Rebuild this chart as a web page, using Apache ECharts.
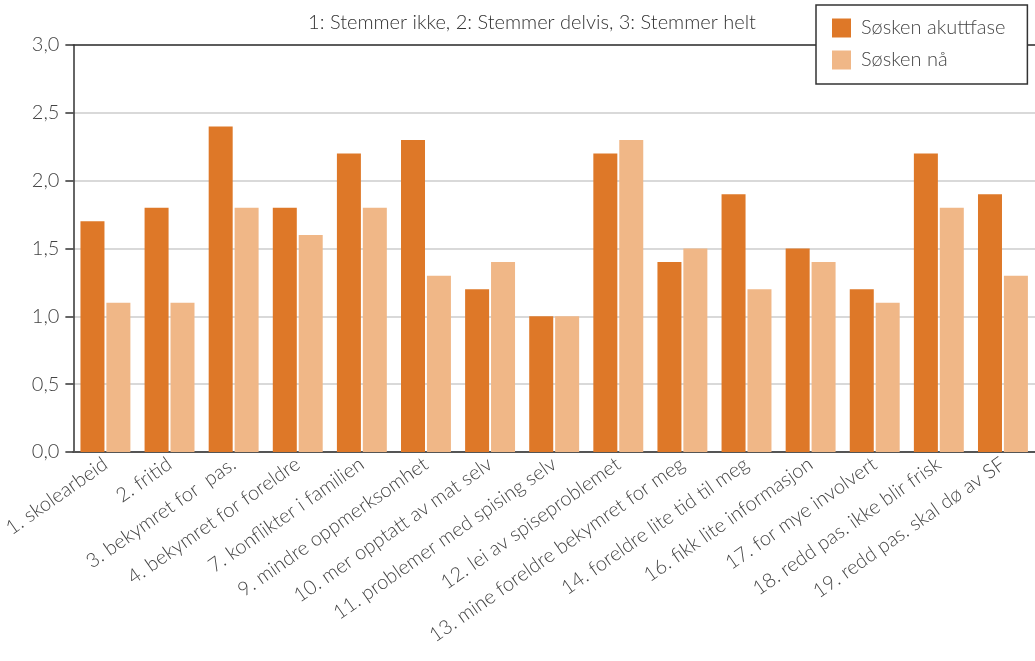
<!DOCTYPE html>
<html>
<head>
<meta charset="utf-8">
<script src="https://cdn.jsdelivr.net/npm/echarts@6/dist/echarts.min.js"></script>
<style>html,body{margin:0;padding:0;background:#fff}#c{width:1035px;height:661px}</style>
</head>
<body>
<div id="c"></div>
<script>
const categories = ['1. skolearbeid','2. fritid','3. bekymret for  pas.','4. bekymret for foreldre','7. konflikter i familien','9. mindre oppmerksomhet','10. mer opptatt av mat selv','11. problemer med spising selv','12. lei av spiseproblemet','13. mine foreldre bekymret for meg','14. foreldre lite tid til meg','16. fikk lite informasjon','17. for mye involvert','18. redd pas. ikke blir frisk','19. redd pas. skal dø av SF'];
const akuttfase = [1.7,1.8,2.4,1.8,2.2,2.3,1.2,1.0,2.2,1.4,1.9,1.5,1.2,2.2,1.9];
const naa = [1.1,1.1,1.8,1.6,1.8,1.3,1.4,1.0,2.3,1.5,1.2,1.4,1.1,1.8,1.3];
const seriesNames = ['Søsken akuttfase','Søsken nå'];
const titleText = '1: Stemmer ikke, 2: Stemmer delvis, 3: Stemmer helt';

const font = 'Lato, "Open Sans", sans-serif';
const chart = echarts.init(document.getElementById('c'));
chart.setOption({
  animation: false,
  backgroundColor: '#fff',
  textStyle: {fontFamily: font},
  title: {text: titleText, left: 527, textAlign: 'center', top: 8,
    textStyle: {fontFamily: font, fontSize: 20, fontWeight: 300, color: '#333'}},
  legend: {
    orient: 'vertical', left: 816, top: 5, z: 10,
    padding: [13, 22, 14, 16], itemGap: 12, itemWidth: 19, itemHeight: 19,
    backgroundColor: '#fff', borderColor: '#333', borderWidth: 1.5,
    icon: 'rect',
    textStyle: {fontFamily: font, fontSize: 20, fontWeight: 300, color: '#444', padding: [0,0,0,5]},
    data: seriesNames
  },
  grid: {left: 72, right: 0, top: 45, bottom: 209, containLabel: false},
  xAxis: [{
    type: 'category', data: categories,
    axisLine: {lineStyle: {color: '#555', width: 2}},
    axisTick: {show: false},
    axisLabel: {rotate: 35, interval: 0, margin: 10, fontFamily: font, fontSize: 20, fontWeight: 300, color: '#444'}
  }, {
    type: 'category', data: categories, position: 'top',
    axisLine: {show: true, lineStyle: {color: '#333', width: 1.5}},
    axisTick: {show: false}, axisLabel: {show: false}
  }],
  yAxis: {
    type: 'value', min: 0, max: 3, interval: 0.5,
    axisLine: {show: true, lineStyle: {color: '#333', width: 1.5}},
    axisTick: {show: true, inside: false, length: 8, lineStyle: {color: '#333', width: 1.5}},
    axisLabel: {margin: 14, fontFamily: font, fontSize: 20, fontWeight: 300, color: '#444',
      formatter: v => v.toFixed(1).replace('.', ',')},
    splitLine: {lineStyle: {color: '#d9d9d9', width: 2}}
  },
  series: [
    {name: seriesNames[0], type: 'bar', data: akuttfase, barWidth: 24, barGap: '8%', itemStyle: {color: '#DE7828'}},
    {name: seriesNames[1], type: 'bar', data: naa, barWidth: 24, barGap: '8%', itemStyle: {color: '#F0B787'}}
  ]
});
</script>
</body>
</html>
